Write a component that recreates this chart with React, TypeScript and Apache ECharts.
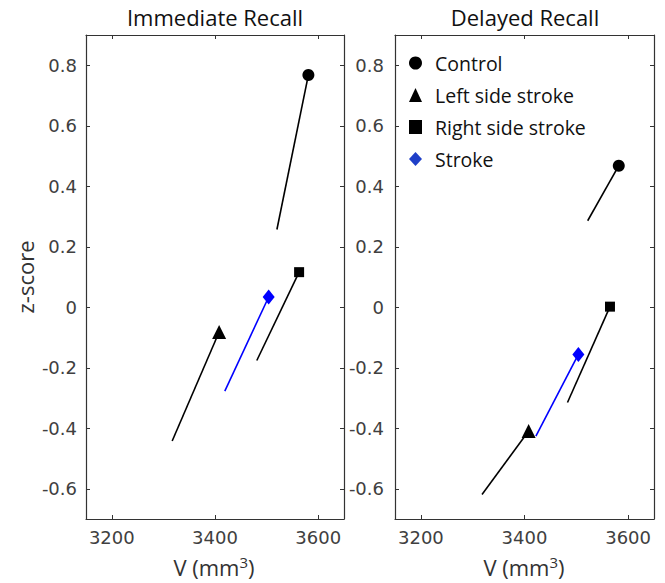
import React, { useEffect, useRef } from "react";
import * as echarts from "echarts";

const groups = ["Control", "Left side stroke", "Right side stroke", "Stroke"];
const symbols = ["circle", "triangle", "rect", "diamond"];
const symbolSizes: any[] = [12, 14, 10, [12, 15]];
const colors = ["#000000", "#000000", "#000000", "#0000ff"];

// Immediate recall: line start (x, y) and marker end (x, y)
const immStartX = [3520, 3317, 3481, 3419];
const immStartY = [0.257, -0.442, -0.176, -0.277];
const immEndX = [3581, 3408, 3563, 3504];
const immEndY = [0.768, -0.082, 0.116, 0.034];

// Delayed recall
const delStartX = [3522, 3318, 3483, 3422];
const delStartY = [0.286, -0.619, -0.315, -0.426];
const delEndX = [3582, 3408, 3565, 3504];
const delEndY = [0.468, -0.409, 0.002, -0.156];

const xTicks = [3200, 3400, 3600];
const yTicks = [-0.6, -0.4, -0.2, 0, 0.2, 0.4, 0.6, 0.8];
const xMin = 3150;
const xMax = 3650;
const yMin = -0.7;
const yMax = 0.9;

const titles = ["Immediate Recall", "Delayed Recall"];

const AXIS_COLOR = "#333333";
const TICK_FONT = "DejaVu Sans";
const TEXT_FONT = "Open Sans";

function fmtY(v: number) {
  if (Math.abs(v) < 1e-9) return "0";
  return v.toFixed(1);
}

function buildAxes(gridIndex: number, yLabelMargin: number) {
  const xAxes: any[] = [];
  const yAxes: any[] = [];
  const common = {
    gridIndex,
    splitLine: { show: false },
    axisLine: {
      show: true,
      onZero: false,
      lineStyle: { color: AXIS_COLOR, width: 1.2 },
    },
  };
  ["bottom", "top"].forEach((pos, i) => {
    xAxes.push({
      ...common,
      type: "value",
      position: pos,
      min: xMin,
      max: xMax,
      axisTick: {
        show: true,
        inside: true,
        length: 4,
        customValues: xTicks,
        lineStyle: { color: AXIS_COLOR },
      },
      axisLabel: {
        show: i === 0,
        customValues: xTicks,
        margin: 9,
        color: "#404040",
        fontFamily: TICK_FONT,
        fontSize: 18,
        formatter: (v: number) => String(Math.round(v)),
      },
    });
  });
  ["left", "right"].forEach((pos, i) => {
    yAxes.push({
      ...common,
      type: "value",
      position: pos,
      min: yMin,
      max: yMax,
      axisTick: {
        show: true,
        inside: true,
        length: 4,
        customValues: yTicks,
        lineStyle: { color: AXIS_COLOR },
      },
      axisLabel: {
        show: i === 0,
        customValues: yTicks,
        margin: yLabelMargin,
        color: "#404040",
        fontFamily: TICK_FONT,
        fontSize: 18,
        formatter: (v: number) => fmtY(v),
      },
    });
  });
  return { xAxes, yAxes };
}

function buildSeries(
  panel: number,
  sx: number[],
  sy: number[],
  ex: number[],
  ey: number[]
) {
  const out: any[] = [];
  const xAxisIndex = panel * 2;
  const yAxisIndex = panel * 2;
  groups.forEach((g, i) => {
    out.push({
      type: "line",
      name: g + " line " + panel,
      xAxisIndex,
      yAxisIndex,
      data: [
        [sx[i], sy[i]],
        [ex[i], ey[i]],
      ],
      showSymbol: false,
      symbol: "none",
      lineStyle: { color: colors[i], width: 1.6 },
      itemStyle: { color: colors[i] },
      z: 2,
      silent: true,
    });
  });
  groups.forEach((g, i) => {
    out.push({
      type: "scatter",
      name: g,
      xAxisIndex,
      yAxisIndex,
      data: [[ex[i], ey[i]]],
      symbol: symbols[i],
      symbolSize: symbolSizes[i],
      itemStyle: { color: colors[i], opacity: 1 },
      z: 3,
    });
  });
  return out;
}

function axisNameText(x: number) {
  return {
    type: "text",
    x,
    y: 567,
    style: {
      text: "V (mm{sup|3})",
      align: "center",
      verticalAlign: "middle",
      fontFamily: TEXT_FONT,
      fontSize: 22,
      fill: "#333333",
      rich: {
        sup: {
          fontFamily: TEXT_FONT,
          fontSize: 15,
          fill: "#333333",
          padding: [0, 0, 11, 0],
        },
      },
    },
  };
}

function titleText(x: number, text: string) {
  return {
    type: "text",
    x,
    y: 17,
    style: {
      text,
      align: "center",
      verticalAlign: "middle",
      fontFamily: TEXT_FONT,
      fontSize: 22,
      fill: "#111111",
    },
  };
}

export default function App() {
  const ref = useRef<HTMLDivElement>(null);

  useEffect(() => {
    if (!ref.current) return;
    const chart = echarts.init(ref.current, undefined, { renderer: "svg" });

    const a0 = buildAxes(0, 9);
    const a1 = buildAxes(1, 11);

    const option: any = {
      animation: false,
      backgroundColor: "#ffffff",
      grid: [
        { left: 86, top: 35, width: 258, height: 484, containLabel: false },
        { left: 395, top: 35, width: 259, height: 484, containLabel: false },
      ],
      xAxis: [...a0.xAxes, ...a1.xAxes],
      yAxis: [...a0.yAxes, ...a1.yAxes],
      legend: {
        orient: "vertical",
        left: 409,
        top: 53,
        padding: 0,
        itemWidth: 13,
        itemHeight: 14,
        itemGap: 12,
        selectedMode: false,
        textStyle: {
          fontFamily: TEXT_FONT,
          fontSize: 19.5,
          color: "#111111",
          lineHeight: 20,
          padding: [0, 0, 0, 8],
        },
        data: groups.map((g, i) => ({
          name: g,
          icon: symbols[i],
          itemStyle: i === 3 ? { color: "#1f3fc8" } : undefined,
        })),
      },
      series: [
        ...buildSeries(0, immStartX, immStartY, immEndX, immEndY),
        ...buildSeries(1, delStartX, delStartY, delEndX, delEndY),
      ],
      graphic: [
        titleText(215, titles[0]),
        titleText(525, titles[1]),
        axisNameText(214),
        axisNameText(524),
        {
          type: "text",
          x: 25,
          y: 277,
          rotation: Math.PI / 2,
          style: {
            text: "z-score",
            align: "center",
            verticalAlign: "middle",
            fontFamily: TEXT_FONT,
            fontSize: 22,
            fill: "#333333",
          },
        },
      ],
    };

    chart.setOption(option);
    return () => {
      chart.dispose();
    };
  }, []);

  return (
    <div
      ref={ref}
      style={{ position: "absolute", left: 0, top: 0, width: 665, height: 583 }}
    />
  );
}
